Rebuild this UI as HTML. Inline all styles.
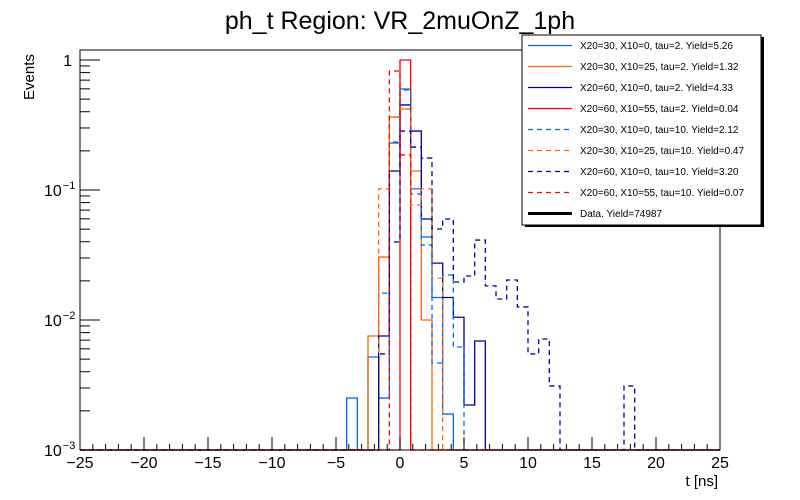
<!DOCTYPE html>
<html><head><meta charset="utf-8">
<style>
body{margin:0;background:#fff;}
svg{display:block;font-family:"Liberation Sans",Arial,sans-serif;}
</style></head>
<body>
<svg id="chart" width="800" height="500" viewBox="0 0 800 500">
<rect x="0" y="0" width="800" height="500" fill="#fff"/>
<text x="400" y="29" font-size="25" text-anchor="middle">ph_t Region: VR_2muOnZ_1ph</text>
<g id="plot"></g>
<g id="axes"></g>
<text x="718" y="486" font-size="15" text-anchor="end">t [ns]</text>
<text transform="translate(34,100) rotate(-90)" font-size="15">Events</text>
<g id="legend"></g>
</svg>
<script>
// Histogram: 60 bins from -25 to 25 ns; values listed from bin 24 onward
const xMin = -25, xMax = 25, nBins = 60;
const firstBin = 24;
const xTicks = [-25,-20,-15,-10,-5,0,5,10,15,20,25];
const yTickExps = [0,-1,-2,-3];
const seriesNames = [
 "X20=30, X10=0, tau=2. Yield=5.26",
 "X20=30, X10=25, tau=2. Yield=1.32",
 "X20=60, X10=0, tau=2. Yield=4.33",
 "X20=60, X10=55, tau=2. Yield=0.04",
 "X20=30, X10=0, tau=10. Yield=2.12",
 "X20=30, X10=25, tau=10. Yield=0.47",
 "X20=60, X10=0, tau=10. Yield=3.20",
 "X20=60, X10=55, tau=10. Yield=0.07",
 "Data. Yield=74987"
];
const s1 = [0,0.00251,0,0.00519,0.00251,0.230,0.598,0.102,0.0435,0.0149,0.00189];
const s2 = [0,0,0,0.00753,0.0305,0.364,0.420,0.140,0.0100];
const s3 = [0,0,0,0,0.00753,0.140,0.451,0.284,0.0598,0.0274,0.0149,0.0105,0.00222,0.00689];
const s4 = [0,0,0,0,0,0,1.0];
const s5 = [0,0,0,0,0.0161,0.234,0.588,0.0932,0.0377,0.00467,0.0222,0.00620];
const s6 = [0,0,0,0,0.102,0.364,0.420,0.0767,0.102,0.0210];
const s7 = [0,0,0,0,0.00548,0.0398,0.284,0.214,0.176,0.0501,0.0598,0.0196,0.0218,0.0412,0.0183,0.0145,0.0203,0.0126,0.00548,0.00714,0.00311,0,0,0,0,0,0,0.00311];
const s8 = [0,0,0,0,0,0.823,0.186];
const dataValues = [];

const NS="http://www.w3.org/2000/svg";
const X0=80,X1=720,Y1=450,YTOP=50,YONE=60,DEC=130;
const yMinV=1e-3;
function xs(v){return X0+(v-xMin)/(xMax-xMin)*(X1-X0);}
function ys(v){if(v<=yMinV)return Y1;return Math.max(YTOP,YONE-Math.log10(v)*DEC);}
const bw=(xMax-xMin)/nBins;
const styles=[
 {c:"#0066ff",d:""},{c:"#ff6600",d:""},{c:"#000099",d:""},{c:"#ff0000",d:""},
 {c:"#0066ff",d:"5,4"},{c:"#ff6600",d:"5,4"},{c:"#000099",d:"5,4"},{c:"#ff0000",d:"5,4"},
 {c:"#000",d:"",w:3}
];
const allSeries=[s1,s2,s3,s4,s5,s6,s7,s8];
const plot=document.getElementById('plot');
allSeries.forEach((arr,si)=>{
  let d="";
  for(let b=0;b<nBins;b++){
    const k=b-firstBin;
    const v=(k>=0&&k<arr.length)?arr[k]:0;
    const xa=xs(xMin+b*bw), xb=xs(xMin+(b+1)*bw), y=ys(v);
    d+=(b===0?"M":"L")+xa.toFixed(2)+","+y.toFixed(2)+" L"+xb.toFixed(2)+","+y.toFixed(2)+" ";
  }
  const p=document.createElementNS(NS,'path');
  p.setAttribute('d',d);p.setAttribute('fill','none');
  p.setAttribute('stroke',styles[si].c);p.setAttribute('stroke-width','1.3');
  if(styles[si].d)p.setAttribute('stroke-dasharray',styles[si].d);
  
  
  plot.appendChild(p);
});
// axes
const ax=document.getElementById('axes');
function line(x1,y1,x2,y2,w,name){const l=document.createElementNS(NS,'line');l.setAttribute('x1',x1);l.setAttribute('y1',y1);l.setAttribute('x2',x2);l.setAttribute('y2',y2);l.setAttribute('stroke','#000');l.setAttribute('stroke-width',w||1);


ax.appendChild(l);}
function text(x,y,s,anchor,size,name){const t=document.createElementNS(NS,'text');t.setAttribute('x',x);t.setAttribute('y',y);t.setAttribute('font-size',size);t.setAttribute('text-anchor',anchor);t.textContent=s;


ax.appendChild(t);return t;}
const fr=document.createElementNS(NS,'rect');
fr.setAttribute('x',X0);fr.setAttribute('y',YTOP);fr.setAttribute('width',X1-X0);fr.setAttribute('height',Y1-YTOP);
fr.setAttribute('fill','none');fr.setAttribute('stroke','#000');


ax.appendChild(fr);
for(let v=xMin;v<=xMax;v++){
  const major=xTicks.includes(v);
  line(xs(v),Y1,xs(v),Y1-(major?13:6),1,major?'x-major-tick':'x-minor-tick');
}
xTicks.forEach(v=>{text(xs(v),468,(v<0?"\u2212"+(-v):String(v)),'middle',16,'x-tick-label');});
yTickExps.forEach(e=>{
  const y=ys(Math.pow(10,e));
  line(X0,y,X0+20,y,1,'y-major-tick');
  if(e===0){text(72,y+6,"1",'end',16,'y-tick-label');}
  else{const t=text(64,y+6,"10",'end',16,'y-tick-label');
    const s=document.createElementNS(NS,'tspan');s.setAttribute('font-size','11');s.setAttribute('dy','-7');s.setAttribute('dx','1');s.textContent="\u2212"+(-e);t.setAttribute('text-anchor','start');t.setAttribute('x',44);t.appendChild(s);}
  if(e>-3){for(let m=2;m<=9;m++){const yy=ys(m*Math.pow(10,e-1));line(X0,yy,X0+10,yy,1,'y-minor-tick');}}
});
// legend
const lg=document.getElementById('legend');
const sh=document.createElementNS(NS,'rect');
sh.setAttribute('x',525);sh.setAttribute('y',37);sh.setAttribute('width',239);sh.setAttribute('height',190);sh.setAttribute('fill','#000');


lg.appendChild(sh);
const bx=document.createElementNS(NS,'rect');
bx.setAttribute('x',522);bx.setAttribute('y',35);bx.setAttribute('width',239);bx.setAttribute('height',190);bx.setAttribute('fill','#fff');bx.setAttribute('stroke','#000');


lg.appendChild(bx);
seriesNames.forEach((n,i)=>{
  const y=45.5+i*21;
  const l=document.createElementNS(NS,'line');
  l.setAttribute('x1',528);l.setAttribute('x2',572);l.setAttribute('y1',y);l.setAttribute('y2',y);
  l.setAttribute('stroke',styles[i].c);l.setAttribute('stroke-width',styles[i].w||1.3);
  if(styles[i].d)l.setAttribute('stroke-dasharray',styles[i].d);
  
  
  lg.appendChild(l);
  const t=document.createElementNS(NS,'text');
  t.setAttribute('x',580);t.setAttribute('y',y+3.5);t.setAttribute('font-size','10');t.textContent=n;
  
  
  lg.appendChild(t);
});
</script>
</body></html>
